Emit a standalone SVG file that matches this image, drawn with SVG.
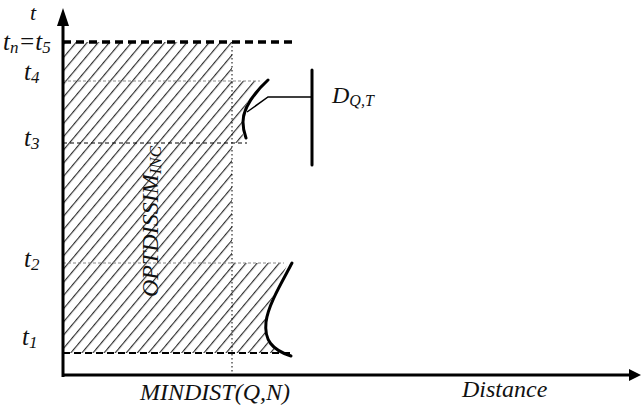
<svg xmlns="http://www.w3.org/2000/svg" width="641" height="411" viewBox="0 0 641 411">
<style>
.lbl{font-family:"Liberation Serif","Times New Roman",serif;font-style:italic;fill:#111;}
.ax{stroke:#000;stroke-width:3;fill:none;}
.thick{stroke:#000;stroke-width:3;fill:none;stroke-linecap:round;}
</style>
<defs>
<pattern id="hatch" patternUnits="userSpaceOnUse" width="8.5" height="8.5" patternTransform="rotate(40)">
<line x1="0.6" y1="0" x2="0.6" y2="8.5" stroke="#222" stroke-width="1.1"/>
</pattern>
</defs>
<rect width="641" height="411" fill="#fff"/>
<g id="region">
<path d="M63,42 L232,42 L232,81 L262,81 C252,92 242,108 242,122 C242,130 243,137 244,143 L232,143 L232,263 L288,263 C280,282 267,305 265,322 C263,340 270,349 286,353 L63,353 Z" fill="url(#hatch)"/>
</g>
<g id="guides">
<line x1="63" y1="42" x2="292" y2="42" stroke="#000" stroke-width="3.5" stroke-dasharray="8,5"/>
<line x1="63" y1="81" x2="260" y2="81" stroke="#888" stroke-width="1" stroke-dasharray="3,2"/>
<line x1="63" y1="143" x2="247" y2="143" stroke="#000" stroke-width="1" stroke-dasharray="4,3"/>
<line x1="63" y1="263" x2="284" y2="263" stroke="#888" stroke-width="1" stroke-dasharray="3,2"/>
<line x1="63" y1="353" x2="290" y2="353" stroke="#000" stroke-width="2" stroke-dasharray="7,4"/>
<line x1="232" y1="42" x2="232" y2="375" stroke="#000" stroke-width="1" stroke-dasharray="1.5,2.5"/>
</g>
<g id="axes">
<line class="ax" x1="63" y1="377" x2="63" y2="24"/>
<polygon points="63,8 57,26 69,26" fill="#000"/>
<line class="ax" x1="62" y1="375" x2="630" y2="375"/>
<polygon points="641,375 629,369 629,381" fill="#000"/>
</g>
<g id="curve-top">
<path class="thick" d="M268,80 C255,92 243,108 243,122 C243,130 245,135 246,138"/>
</g>
<g id="curve-bottom">
<path class="thick" d="M292,263 C282,282 268,305 266,322 C264,340 272,350 291,356"/>
</g>
<g id="connectors">
<path d="M247,112 L268,97 L312,97" stroke="#000" stroke-width="1.5" fill="none"/>
</g>
<g id="bar">
<line class="thick" x1="312" y1="70" x2="312" y2="165"/>
</g>
<g id="labels">
<text class="lbl" x="30" y="20" font-size="22">t</text>
<text class="lbl" x="3" y="50" font-size="25">t<tspan font-size="17" dy="3">n</tspan><tspan dy="-3">=t</tspan><tspan font-size="17" dy="3">5</tspan></text>
<text class="lbl" x="24" y="80" font-size="25">t<tspan font-size="17" dy="3">4</tspan></text>
<text class="lbl" x="24" y="146" font-size="25">t<tspan font-size="17" dy="3">3</tspan></text>
<text class="lbl" x="24" y="267" font-size="25">t<tspan font-size="17" dy="3">2</tspan></text>
<text class="lbl" x="22" y="345" font-size="25">t<tspan font-size="17" dy="3">1</tspan></text>
<text class="lbl" x="332" y="103" font-size="24">D<tspan font-size="16" dy="3">Q,T</tspan></text>
<text class="lbl" x="140" y="400" font-size="24">MINDIST(Q,N)</text>
<text class="lbl" x="462" y="397" font-size="24">Distance</text>
<text class="lbl" transform="translate(158,297) rotate(-90)" font-size="24">OPTDISSIM<tspan font-size="17" dy="3">INC</tspan></text>
</g>
</svg>
